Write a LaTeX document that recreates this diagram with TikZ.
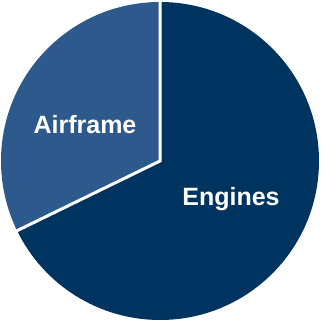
\documentclass[tikz,border=0pt]{standalone}
\usepackage{fontspec}
\setmainfont{Liberation Sans}
\usetikzlibrary{calc}
\definecolor{engines}{RGB}{0,52,96}
\definecolor{airframe}{RGB}{45,89,141}
\begin{document}
\begin{tikzpicture}[x=1pt,y=1pt,
  slicelabel/.style={text=white,anchor=base,inner sep=0pt,font=\bfseries\fontsize{25}{30}\selectfont},
  divider/.style={white,line width=3pt}]
\useasboundingbox (0,0) rectangle (321,322);
\coordinate (c) at (160,161);
% Engines share: 206 deg round to 450 deg
\fill[engines] (c) -- ++(90:159) arc[start angle=90,end angle=-154,radius=159] -- cycle;
% Airframe share: 90 deg to 206 deg
\fill[airframe] (c) -- ++(90:159) arc[start angle=90,end angle=206,radius=159] -- cycle;
\coordinate (top) at ($(c)+(90:160)$);
\coordinate (left) at ($(c)+(206:160)$);
\draw[divider] (top) -- (c) -- (left);
\node[slicelabel] (airframe) at (85,188) {Airframe};
\node[slicelabel] (engines) at (231,116) {Engines};
\end{tikzpicture}
\end{document}
